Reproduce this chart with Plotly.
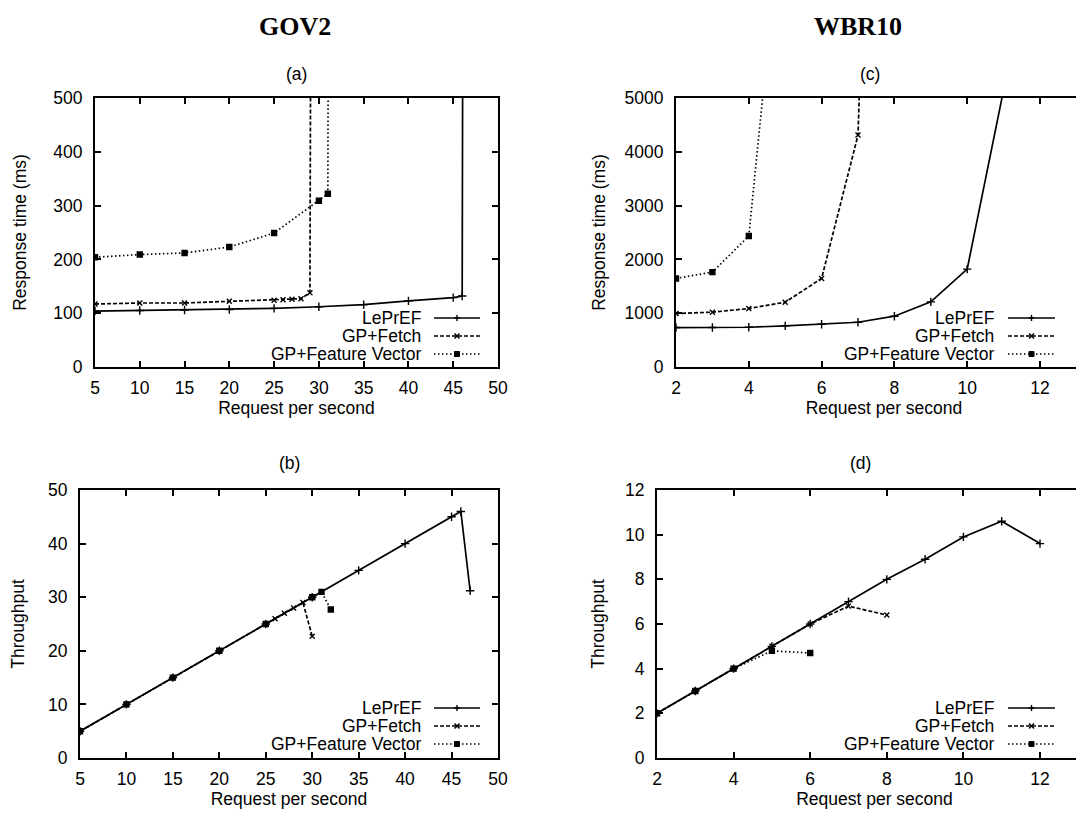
import plotly.graph_objects as go

W, H = 1084, 814

# ---------------- data ----------------
series_names = ["LePrEF", "GP+Fetch", "GP+Feature Vector"]

# GOV2 (panels a, b)
gov2_rps_leprf = [5, 10, 15, 20, 25, 30, 35, 40, 45, 46, 47]
gov2_resp_leprf = [104, 105, 106, 107, 109, 112, 116, 123, 129, 132, 8000]
gov2_thr_leprf = [5, 10, 15, 20, 25, 30, 35, 40, 45, 46, 31.2]

gov2_rps_fetch = [5, 10, 15, 20, 25, 26, 27, 28, 29, 30]
gov2_resp_fetch = [117, 119, 119, 122, 124, 125, 126, 127, 138, 6000]
gov2_thr_fetch = [5, 10, 15, 20, 25, 26, 27, 28, 29, 22.7]

gov2_rps_fv = [5, 10, 15, 20, 25, 30, 31, 32]
gov2_resp_fv = [204, 209, 212, 223, 249, 309, 322, 7000]
gov2_thr_fv = [5, 10, 15, 20, 25, 30, 31, 27.7]

# WBR10 (panels c, d)
wbr_rps_leprf = [2, 3, 4, 5, 6, 7, 8, 9, 10, 11, 12]
wbr_resp_leprf = [733, 733, 739, 764, 795, 832, 944, 1211, 1820, 5150, 12000]
wbr_thr_leprf = [2, 3, 4, 5, 6, 7, 8, 8.9, 9.9, 10.6, 9.6]

wbr_rps_fetch = [2, 3, 4, 5, 6, 7, 8]
wbr_resp_fetch = [994, 1019, 1087, 1205, 1646, 4311, 25000]
wbr_thr_fetch = [2, 3, 4, 5, 6, 6.8, 6.4]

wbr_rps_fv = [2, 3, 4, 5, 6]
wbr_resp_fv = [1646, 1764, 2435, 9200, 15000]
wbr_thr_fv = [2, 3, 4, 4.8, 4.7]

# ---------------- styling ----------------
FONT = "Liberation Sans, Arial, Helvetica, sans-serif"
FS = 17.5
LW = 1.7
styles = {
    "LePrEF": dict(dash="solid", symbol="cross-thin", size=6, mk="plus"),
    "GP+Fetch": dict(dash="4px,2px", symbol="x-thin", size=5, mk="x"),
    "GP+Feature Vector": dict(dash="1.5px,2.5px", symbol="square", size=5, mk="sq"),
}

# panel geometry in pixels (left, right, top, bottom)
geo = {
    "a": (87, 490, 90, 359),
    "b": (72, 490, 482, 750),
    "c": (668, 1084, 90, 359),
    "d": (649, 1084, 482, 750),
}


def px(x):
    return x / W


def py(y):
    return 1 - y / H


fig = go.Figure()

panels = [
    ("a", "x", "y", [(gov2_rps_leprf, gov2_resp_leprf), (gov2_rps_fetch, gov2_resp_fetch), (gov2_rps_fv, gov2_resp_fv)]),
    ("b", "x2", "y2", [(gov2_rps_leprf, gov2_thr_leprf), (gov2_rps_fetch, gov2_thr_fetch), (gov2_rps_fv, gov2_thr_fv)]),
    ("c", "x3", "y3", [(wbr_rps_leprf, wbr_resp_leprf), (wbr_rps_fetch, wbr_resp_fetch), (wbr_rps_fv, wbr_resp_fv)]),
    ("d", "x4", "y4", [(wbr_rps_leprf, wbr_thr_leprf), (wbr_rps_fetch, wbr_thr_fetch), (wbr_rps_fv, wbr_thr_fv)]),
]

for key, xa, ya, data in panels:
    for name, (xs, ys) in zip(series_names, data):
        st = styles[name]
        fig.add_trace(go.Scatter(
            x=xs, y=ys, name=name, xaxis=xa, yaxis=ya, mode="lines+markers",
            line=dict(color="black", width=LW, dash=st["dash"]),
            marker=dict(symbol=st["symbol"], size=st["size"], color="black",
                        line=dict(color="black", width=1.4)),
            showlegend=False,
        ))

common = dict(showline=True, linecolor="black", linewidth=2, ticks="inside",
              ticklen=6, tickwidth=1.5, tickcolor="black", showgrid=False,
              zeroline=False, automargin=False,
              tickfont=dict(family=FONT, size=FS, color="black"))


def xdom(k):
    l, r, t, b = geo[k]
    return [px(l), px(r)]


def ydom(k):
    l, r, t, b = geo[k]
    return [py(b), py(t)]


def ttl(text, standoff):
    return dict(text=text, standoff=standoff, font=dict(family=FONT, size=FS, color="black"))


xtitle = ttl("Request per second", 3)

# WBR10 panels: the right border lies just outside the page
ppu_c = (1032 - 668) / 10
ppu_d = (1032 - 649) / 10
right_end_c = 2 + (1084 - 668) / ppu_c
right_end_d = 2 + (1084 - 649) / ppu_d

fig.update_layout(
    xaxis=dict(domain=xdom("a"), range=[5, 50], dtick=5, tick0=5, anchor="y", mirror="ticks", title=xtitle, ticklabelstandoff=4, **common),
    yaxis=dict(domain=ydom("a"), range=[0, 500], dtick=100, anchor="x", mirror="ticks", ticklabelstandoff=7,
               title=ttl("Response time (ms)", 22), **common),
    xaxis2=dict(domain=xdom("b"), range=[5, 50], dtick=5, tick0=5, anchor="y2", mirror="ticks", title=xtitle, ticklabelstandoff=4, **common),
    yaxis2=dict(domain=ydom("b"), range=[0, 50], dtick=10, anchor="x2", mirror="ticks", ticklabelstandoff=7,
                title=ttl("Throughput", 19), **common),
    xaxis3=dict(domain=xdom("c"), range=[2, right_end_c], dtick=2, tick0=2, anchor="y3", mirror="ticks", title=xtitle, ticklabelstandoff=4, **common),
    yaxis3=dict(domain=ydom("c"), range=[0, 5000], dtick=1000, anchor="x3", mirror=False, ticklabelstandoff=7,
                title=ttl("Response time (ms)", 14), **common),
    xaxis4=dict(domain=xdom("d"), range=[2, right_end_d], dtick=2, tick0=2, anchor="y4", mirror="ticks", title=xtitle, ticklabelstandoff=4, **common),
    yaxis4=dict(domain=ydom("d"), range=[0, 12], dtick=2, anchor="x4", mirror=False, ticklabelstandoff=7,
                title=ttl("Throughput", 16), **common),
)

annotations = []
shapes = []

# dataset titles
serif = dict(family="Liberation Serif, Times New Roman, serif", size=26, color="black")
annotations.append(dict(text="<b>GOV2</b>", x=px(287), y=py(18), xref="paper", yref="paper",
                        showarrow=False, xanchor="center", yanchor="middle", font=serif))
annotations.append(dict(text="<b>WBR10</b>", x=px(850), y=py(18), xref="paper", yref="paper",
                        showarrow=False, xanchor="center", yanchor="middle", font=serif))

# panel labels
labels = [("(a)", 288, 66), ("(b)", 281, 455), ("(c)", 862, 66), ("(d)", 852, 455)]
for t, x, y in labels:
    annotations.append(dict(text=t, x=px(x), y=py(y), xref="paper", yref="paper", showarrow=False,
                            xanchor="center", yanchor="middle", font=dict(family=FONT, size=FS, color="black")))

# gnuplot-style keys: text right-aligned, sample on the right
keys = {
    "a": (415, 426, 472, [310, 328, 346]),
    "c": (988, 1000, 1047, [310, 328, 346]),
    "b": (415, 426, 472, [700, 718, 736]),
    "d": (988, 1000, 1047, [700, 718, 736]),
}
for k, (tr, l0, l1, rows) in keys.items():
    for name, ry in zip(series_names, rows):
        st = styles[name]
        annotations.append(dict(text=name, x=px(tr), y=py(ry), xref="paper", yref="paper", showarrow=False,
                                xanchor="right", yanchor="middle", font=dict(family=FONT, size=FS, color="black")))
        shapes.append(dict(type="line", xref="paper", yref="paper", x0=px(l0), x1=px(l1), y0=py(ry), y1=py(ry),
                           line=dict(color="black", width=LW, dash=st["dash"])))
        mx = (l0 + l1) / 2
        if st["mk"] == "plus":
            shapes.append(dict(type="line", xref="paper", yref="paper", x0=px(mx - 3), x1=px(mx + 3),
                               y0=py(ry), y1=py(ry), line=dict(color="black", width=1.4)))
            shapes.append(dict(type="line", xref="paper", yref="paper", x0=px(mx), x1=px(mx),
                               y0=py(ry - 3), y1=py(ry + 3), line=dict(color="black", width=1.4)))
        elif st["mk"] == "x":
            shapes.append(dict(type="line", xref="paper", yref="paper", x0=px(mx - 2.5), x1=px(mx + 2.5),
                               y0=py(ry - 2.5), y1=py(ry + 2.5), line=dict(color="black", width=1.4)))
            shapes.append(dict(type="line", xref="paper", yref="paper", x0=px(mx - 2.5), x1=px(mx + 2.5),
                               y0=py(ry + 2.5), y1=py(ry - 2.5), line=dict(color="black", width=1.4)))
        else:
            shapes.append(dict(type="rect", xref="paper", yref="paper", x0=px(mx - 2.5), x1=px(mx + 2.5),
                               y0=py(ry + 2.5), y1=py(ry - 2.5), line=dict(color="black", width=1),
                               fillcolor="black"))

fig.update_layout(
    width=W, height=H, margin=dict(l=0, r=0, t=0, b=0),
    paper_bgcolor="white", plot_bgcolor="white", showlegend=False,
    font=dict(family=FONT, size=FS, color="black"),
    annotations=annotations, shapes=shapes,
)

fig.write_html("out.html")
